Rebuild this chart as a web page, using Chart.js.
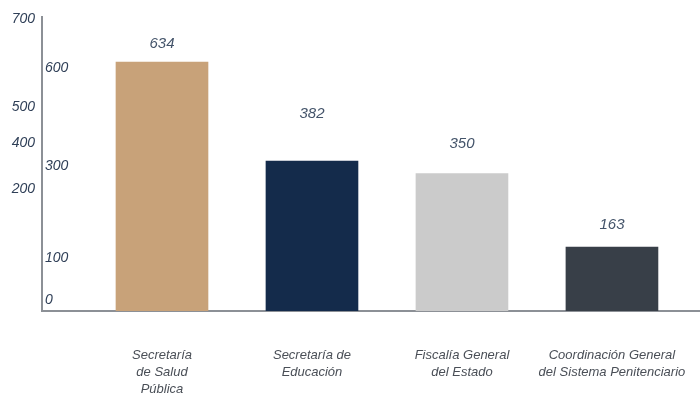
<!DOCTYPE html>
<html>
<head>
<meta charset="utf-8">
<script src="https://cdn.jsdelivr.net/npm/chart.js@4/dist/chart.umd.min.js"></script>
<style>
html, body { margin: 0; padding: 0; background: #fff; }
#wrap { width: 700px; height: 403px; position: relative; }
</style>
</head>
<body>
<div id="wrap"><canvas id="chart1"></canvas></div>
<script>
let categories = [
  ['Secretaría', 'de Salud', 'Pública'],
  ['Secretaría de', 'Educación'],
  ['Fiscalía General', 'del Estado'],
  ['Coordinación General', 'del Sistema Penitenciario']
];
let values = [634, 382, 350, 163];
let outerTickLabels = ['700', '500', '400', '200'];
let innerTickLabels = ['600', '300', '100', '0'];

let barColors = ['#c8a279', '#142b4b', '#cbcbcb', '#383f48'];
// the source draws its tick labels at odd heights, these are where they sit on the scale
let outerTickAt = [743, 519, 428, 311];
let innerTickAt = [619, 369, 135, 28];
let labelLift = [18, 47, 30, 22];

let fam = '"Liberation Sans", Arial, sans-serif';

let valueLabels = {
  id: 'valueLabels',
  afterDatasetsDraw(chart) {
    let ctx = chart.ctx;
    let meta = chart.getDatasetMeta(0);
    ctx.save();
    ctx.font = 'italic 15px ' + fam;
    ctx.fillStyle = '#44546a';
    ctx.textAlign = 'center';
    ctx.textBaseline = 'middle';
    meta.data.forEach((bar, i) => {
      ctx.fillText(values[i], bar.x, bar.y - labelLift[i]);
    });
    ctx.restore();
  }
};

let ctx1 = document.getElementById('chart1');
let chart1 = new Chart(ctx1, {
  type: 'bar',
  data: {
    datasets: [{
      data: values.map((v, i) => ({x: i, y: v})),
      backgroundColor: barColors,
      barThickness: 92
    }]
  },
  plugins: [valueLabels],
  options: {
    responsive: true,
    maintainAspectRatio: false,
    animation: false,
    layout: {padding: {left: 0, top: 17, right: 0, bottom: 0}},
    plugins: {legend: {display: false}, tooltip: {enabled: false}},
    scales: {
      x: {
        type: 'linear',
        offset: false,
        min: -0.8,
        max: 3.587,
        grid: {display: false, drawTicks: false},
        border: {color: '#8c9096', width: 2},
        afterBuildTicks: s => { s.ticks = categories.map((c, i) => ({value: i})); },
        afterFit: s => { s.height = 92; s.paddingLeft = 0; s.paddingRight = 0; },
        ticks: {
          callback: v => categories[v],
          autoSkip: false,
          maxRotation: 0,
          padding: 36,
          color: '#4a4f57',
          font: {family: fam, size: 13, style: 'italic', lineHeight: 1.3}
        }
      },
      y: {
        type: 'linear',
        position: 'left',
        weight: 1,
        min: 0,
        max: 749,
        grid: {display: false, drawTicks: false},
        border: {display: false},
        afterBuildTicks: s => { s.ticks = outerTickAt.map(v => ({value: v})); },
        afterFit: s => { s.width = 39; },
        ticks: {
          callback: (v, i) => outerTickLabels[i],
          padding: 4,
          color: '#2f3f57',
          font: {family: fam, size: 14, style: 'italic'}
        }
      },
      yIn: {
        type: 'linear',
        axis: 'y',
        position: 'left',
        weight: 0,
        min: 0,
        max: 749,
        grid: {display: false, drawTicks: false},
        border: {color: '#8c9096', width: 2},
        afterBuildTicks: s => { s.ticks = innerTickAt.map(v => ({value: v})); },
        afterFit: s => { s.width = 3; },
        ticks: {
          callback: (v, i) => innerTickLabels[i],
          mirror: true,
          padding: 3,
          color: '#2f3f57',
          font: {family: fam, size: 14, style: 'italic'}
        }
      }
    }
  }
});
</script>
</body>
</html>
